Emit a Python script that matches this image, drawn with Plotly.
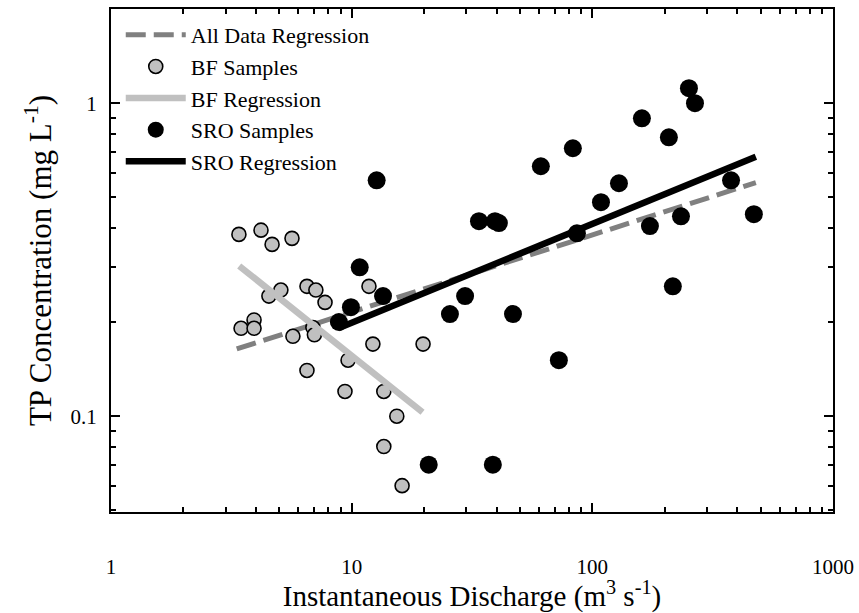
import plotly.graph_objects as go

# BF (baseflow) samples: discharge (m3/s), TP (mg/L)
bf_q = [3.40, 3.47, 3.93, 3.93, 4.20, 4.67, 4.53, 5.08, 5.65, 5.70, 6.52, 6.52,
        7.10, 6.90, 7.00, 7.75, 9.38, 9.66, 11.8, 12.25, 13.6, 13.6, 15.4, 16.2, 19.8]
bf_tp = [0.381, 0.191, 0.203, 0.191, 0.393, 0.354, 0.242, 0.253, 0.370, 0.180, 0.260, 0.140,
         0.253, 0.192, 0.182, 0.231, 0.120, 0.151, 0.260, 0.170, 0.120, 0.080, 0.100, 0.060, 0.170]

# SRO (storm runoff) samples
sro_q = [12.7, 10.8, 8.85, 9.93, 13.5, 20.9, 25.6, 29.6, 33.8, 39.4, 40.9, 38.6, 46.8, 61.1,
         72.6, 83.0, 86.3, 108.6, 129, 160.7, 173.5, 208, 216, 233.5, 252, 267, 377, 469]
sro_tp = [0.567, 0.299, 0.200, 0.223, 0.242, 0.070, 0.212, 0.242, 0.420, 0.420, 0.414, 0.070,
          0.212, 0.629, 0.151, 0.718, 0.384, 0.483, 0.555, 0.895, 0.405, 0.778, 0.260, 0.435,
          1.117, 1.000, 0.567, 0.442]

# regression line end points
all_q = [3.33, 478]
all_tp = [0.164, 0.558]
bf_reg_q = [3.41, 19.7]
bf_reg_tp = [0.302, 0.103]
sro_reg_q = [8.8, 478]
sro_reg_tp = [0.191, 0.674]

x_ticks = [1, 10, 100, 1000]
y_ticks = [0.1, 1]

FONT = "Liberation Serif"

fig = go.Figure()

fig.add_trace(go.Scatter(
    x=all_q, y=all_tp, mode="lines", name="All Data Regression",
    line=dict(color="#808080", width=5, dash="20px,8px"),
))
fig.add_trace(go.Scatter(
    x=bf_q, y=bf_tp, mode="markers", name="BF Samples",
    marker=dict(color="#c0c0c0", size=14, line=dict(color="black", width=1.6)),
))
fig.add_trace(go.Scatter(
    x=bf_reg_q, y=bf_reg_tp, mode="lines", name="BF Regression",
    line=dict(color="#c0c0c0", width=6.5),
))
fig.add_trace(go.Scatter(
    x=sro_q, y=sro_tp, mode="markers", name="SRO Samples",
    marker=dict(color="black", size=18, line=dict(width=0)),
))
fig.add_trace(go.Scatter(
    x=sro_reg_q, y=sro_reg_tp, mode="lines", name="SRO Regression",
    line=dict(color="black", width=6.5),
))

fig.update_layout(
    width=859,
    height=613,
    font=dict(family=FONT, size=21, color="black"),
    plot_bgcolor="white",
    paper_bgcolor="white",
    margin=dict(l=111, r=26, t=9, b=101),
    legend=dict(
        x=0.0135, y=0.99, xanchor="left", yanchor="top",
        bgcolor="rgba(0,0,0,0)",
        font=dict(size=22),
        itemwidth=60,
        tracegroupgap=0,
    ),
)

fig.update_xaxes(
    type="log",
    range=[0, 3],
    tickvals=x_ticks,
    ticktext=[str(v) for v in x_ticks],
    ticks="inside", ticklen=9, tickwidth=1.5, tickcolor="black",
    minor=dict(ticks="inside", ticklen=5, tickwidth=1.5, tickcolor="black", dtick="D1", showgrid=False),
    showline=True, linewidth=2, linecolor="black", mirror="ticks",
    showgrid=False, zeroline=False, automargin=False,
    ticklabelstandoff=35,
    title=dict(text="Instantaneous Discharge (m<sup>3</sup> s<sup>-1</sup>)", font=dict(size=29), standoff=8),
)

fig.update_yaxes(
    type="log",
    range=[-1.306, 0.301],
    tickvals=y_ticks,
    ticktext=["0.1", "1"],
    ticks="inside", ticklen=9, tickwidth=1.5, tickcolor="black",
    minor=dict(ticks="inside", ticklen=5, tickwidth=1.5, tickcolor="black", dtick="D1", showgrid=False),
    showline=True, linewidth=2, linecolor="black", mirror="ticks",
    showgrid=False, zeroline=False, automargin=False,
    ticklabelstandoff=8,
    title=dict(text="TP Concentration (mg L<sup>-1</sup>)", font=dict(size=31), standoff=10),
)

# drop the browser's default page margin so the figure sits at the window origin
fig.write_html(
    "out.html",
    config={"displayModeBar": False},
    post_script="document.body.style.margin = '0';",
)
